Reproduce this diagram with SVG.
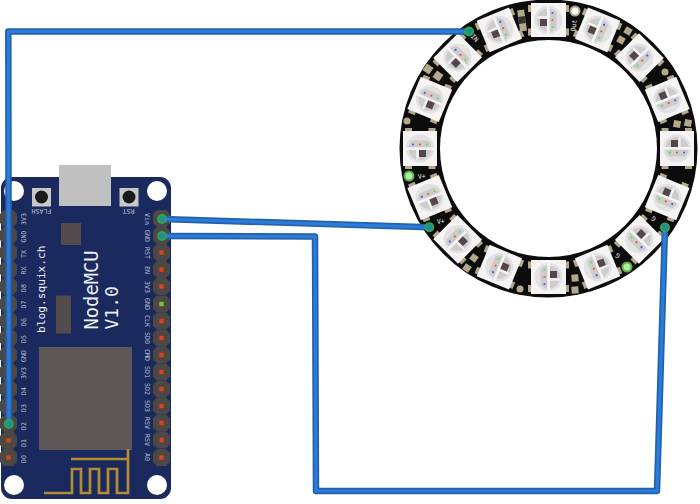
<svg xmlns="http://www.w3.org/2000/svg" xmlns:xlink="http://www.w3.org/1999/xlink" width="700" height="504" viewBox="0 0 700 504">
<style>
.l{font-family:"DejaVu Sans Mono",monospace;fill:#bcc0d4;font-size:6.600px;text-anchor:middle}
.t{font-family:"DejaVu Sans Mono",monospace;fill:#eceef4}
.pad{fill:#b3a88c}
.w1{fill:none;stroke:#2161ad;stroke-width:6.500;stroke-linecap:round;stroke-linejoin:round}
.w2{fill:none;stroke:#2c7bd6;stroke-width:3.200;stroke-linecap:round;stroke-linejoin:round}
.pin{fill:#4b4846}
.sq{fill:#e0401a}
.gp{fill:#a4f296;stroke:#6aa84f;stroke-width:2}
.ep{fill:#1f8f98;stroke:#35a34c;stroke-width:2}
</style>
<defs>
<clipPath id="c"><circle r="11.500"/></clipPath>
<g id="led">
<rect class="pad" x="-15" y="-20.500" width="7" height="41"/>
<rect class="pad" x="8.500" y="-20.500" width="7" height="41"/>
<rect x="-17" y="-17.500" width="34" height="35" fill="#f5f3f3"/>
<circle r="14" fill="#e2e2e2"/>
<g clip-path="url(#c)">
<rect x="-12" y="-8" width="24" height="7" fill="#cdcbcb"/>
<rect x="-12" y="1.500" width="8.500" height="11" fill="#cdcbcb"/>
<rect x="-1.500" y="1.500" width="13" height="11" fill="#cdcbcb"/>
</g>
<rect x="-14" y="-1" width="28" height="2.500" fill="#f5f3f3"/>
<rect x="-3.500" y="1" width="2" height="10" fill="#f5f3f3"/>
<rect x="-1" y="1.500" width="7" height="7" fill="#55464a"/>
<circle cx="-7" cy="-4" r="1.100" fill="#4a5cf0"/>
<circle cy="-4" r="1.100" fill="#f05a28"/>
<circle cx="7" cy="-4" r="1.100" fill="#5ae65a"/>
</g>
<g id="p"><path class="pin" d="M-4.500-8.600H4.500L8.500-4.500V4.500L4.500 8.600H-4.500L-8.500 4.500V-4.500Z"/></g>
<g id="ps"><use xlink:href="#p"/><rect class="sq" x="-2.200" y="-2.200" width="4.400" height="4.400"/></g>
</defs>
<g id="ring">
<path fill-rule="evenodd" fill="#0c0c0c" d="M399.500 148.500a149 149 0 1 0 298 0a149 149 0 1 0 -298 0ZM440 148.500a108.500 108.500 0 1 1 217 0a108.500 108.500 0 1 1 -217 0Z"/>
<use xlink:href="#led" transform="rotate(0 548.500 148.500) translate(420 148.500)"/>
<use xlink:href="#led" transform="rotate(22.500 548.500 148.500) translate(420 148.500)"/>
<use xlink:href="#led" transform="rotate(45 548.500 148.500) translate(420 148.500)"/>
<use xlink:href="#led" transform="rotate(67.500 548.500 148.500) translate(420 148.500)"/>
<use xlink:href="#led" transform="rotate(90 548.500 148.500) translate(420 148.500)"/>
<use xlink:href="#led" transform="rotate(112.500 548.500 148.500) translate(420 148.500)"/>
<use xlink:href="#led" transform="rotate(135 548.500 148.500) translate(420 148.500)"/>
<use xlink:href="#led" transform="rotate(157.500 548.500 148.500) translate(420 148.500)"/>
<use xlink:href="#led" transform="rotate(180 548.500 148.500) translate(420 148.500)"/>
<use xlink:href="#led" transform="rotate(202.500 548.500 148.500) translate(420 148.500)"/>
<use xlink:href="#led" transform="rotate(225 548.500 148.500) translate(420 148.500)"/>
<use xlink:href="#led" transform="rotate(247.500 548.500 148.500) translate(420 148.500)"/>
<use xlink:href="#led" transform="rotate(270 548.500 148.500) translate(420 148.500)"/>
<use xlink:href="#led" transform="rotate(292.500 548.500 148.500) translate(420 148.500)"/>
<use xlink:href="#led" transform="rotate(315 548.500 148.500) translate(420 148.500)"/>
<use xlink:href="#led" transform="rotate(337.500 548.500 148.500) translate(420 148.500)"/>
<g class="pad">
<rect x="-4" y="-4" width="8" height="8" transform="translate(428 69) rotate(35)"/>
<rect x="-4" y="-4" width="8" height="8" transform="translate(438 76) rotate(35)"/>
<rect x="-3.500" y="-3.500" width="7" height="7" transform="translate(628 31) rotate(30)"/>
<rect x="-3.500" y="-3.500" width="7" height="7" transform="translate(621 40) rotate(30)"/>
<rect x="-3.500" y="-3.500" width="7" height="7" transform="translate(688 123) rotate(10)"/>
<rect x="-3.500" y="-3.500" width="7" height="7" transform="translate(677 124) rotate(10)"/>
<rect x="-3.500" y="-3.500" width="7" height="7" transform="translate(474 258) rotate(35)"/>
<rect x="-3.500" y="-3.500" width="7" height="7" transform="translate(467 268) rotate(35)"/>
<rect x="-3.500" y="-3.500" width="7" height="7" transform="translate(575 278) rotate(-5)"/>
<rect x="-3.500" y="-3.500" width="7" height="7" transform="translate(575 290) rotate(-5)"/>
<circle cx="407" cy="121" r="3.500"/>
<circle cx="665" cy="72" r="3.500"/>
<circle cx="520" cy="289" r="3.500"/>
</g>
<rect x="518.500" y="10" width="7" height="21" fill="#b3a88c" transform="rotate(-8 522 20)"/>
<rect x="518.500" y="16.500" width="7" height="7" fill="#333" transform="rotate(-8 522 20)"/>
<circle cx="575" cy="11" r="4.500" fill="#fff" stroke="#b3a88c" stroke-width="2"/>
<circle class="gp" cx="409" cy="176" r="4.500"/>
<circle class="gp" cx="627" cy="267" r="4.500"/>
<text class="t" font-size="6.500" text-anchor="middle" transform="translate(473 39.500) rotate(45)">IN</text>
<text class="t" font-size="6.500" text-anchor="middle" transform="translate(576 26) rotate(-80)">Out</text>
<text class="t" font-size="6.500" text-anchor="middle" transform="translate(422 178.500) rotate(-8)">V+</text>
<text class="t" font-size="6.500" text-anchor="middle" transform="translate(441 223.500) rotate(-8)">V+</text>
<text class="t" font-size="6.500" text-anchor="middle" transform="translate(655 217) rotate(-145)">G</text>
<text class="t" font-size="6.500" text-anchor="middle" transform="translate(619 254) rotate(-145)">G</text>
</g>
<g id="nodemcu">
<rect x="1" y="177" width="170" height="322" rx="11" fill="#1b2a5e"/>
<rect x="59" y="165" width="52" height="41" fill="#c0c0c0"/>
<circle cx="14" cy="191" r="10" fill="#fff"/>
<circle cx="157" cy="191" r="10" fill="#fff"/>
<circle cx="14" cy="485" r="10" fill="#fff"/>
<circle cx="157" cy="485" r="10" fill="#fff"/>
<rect x="32" y="188" width="19" height="18.500" fill="#c8c8c8"/><circle cx="41.500" cy="197" r="6.500" fill="#1a1a1a"/>
<rect x="119.500" y="188" width="19" height="18.500" fill="#c8c8c8"/><circle cx="129" cy="197" r="6.500" fill="#1a1a1a"/>
<rect x="61" y="223" width="20" height="22" fill="#544c4c"/>
<rect x="56" y="295.500" width="15" height="38" fill="#544c4c"/>
<rect x="39" y="347" width="93" height="103" fill="#5f5757"/>
<path d="M44 493H72V469H81V493H90V469H99V493H108V469H117V493H128V449M128 459H71" fill="none" stroke="#b58d2e" stroke-width="2.700"/>
<g id="right-pins">
<use xlink:href="#p" x="161.500" y="218.500"/><use xlink:href="#p" x="161.500" y="235.500"/>
<use xlink:href="#ps" x="161.500" y="252.500"/><use xlink:href="#ps" x="161.500" y="269.500"/><use xlink:href="#ps" x="161.500" y="286.500"/>
<use xlink:href="#p" x="161.500" y="304"/><rect x="159.300" y="301.800" width="4.400" height="4.400" fill="#7ac52a"/>
<use xlink:href="#ps" x="161.500" y="321"/><use xlink:href="#ps" x="161.500" y="338"/><use xlink:href="#ps" x="161.500" y="355"/><use xlink:href="#ps" x="161.500" y="372"/><use xlink:href="#ps" x="161.500" y="389"/><use xlink:href="#ps" x="161.500" y="406"/><use xlink:href="#ps" x="161.500" y="423"/><use xlink:href="#ps" x="161.500" y="440"/><use xlink:href="#ps" x="161.500" y="457.500"/>
</g>
<g id="left-pins">
<use xlink:href="#p" x="8.500" y="218.500"/><use xlink:href="#p" x="8.500" y="235.500"/><use xlink:href="#p" x="8.500" y="252.500"/><use xlink:href="#p" x="8.500" y="269.500"/><use xlink:href="#p" x="8.500" y="286.500"/><use xlink:href="#p" x="8.500" y="304"/><use xlink:href="#p" x="8.500" y="321"/><use xlink:href="#p" x="8.500" y="338"/><use xlink:href="#p" x="8.500" y="355"/><use xlink:href="#p" x="8.500" y="372"/><use xlink:href="#p" x="8.500" y="389"/><use xlink:href="#p" x="8.500" y="406"/><use xlink:href="#p" x="8.500" y="423.500"/>
<use xlink:href="#ps" x="8.500" y="440.500"/><use xlink:href="#ps" x="8.500" y="457.500"/>
</g>
<g class="l">
<text transform="translate(26 219) rotate(-90)">3V3</text>
<text transform="translate(26 236.500) rotate(-90)">GND</text>
<text transform="translate(26 254) rotate(-90)">TX</text>
<text transform="translate(26 270.500) rotate(-90)">RX</text>
<text transform="translate(26 288) rotate(-90)">D8</text>
<text transform="translate(26 304.500) rotate(-90)">D7</text>
<text transform="translate(26 322) rotate(-90)">D6</text>
<text transform="translate(26 339) rotate(-90)">D5</text>
<text transform="translate(26 356) rotate(-90)">GND</text>
<text transform="translate(26 373) rotate(-90)">3V3</text>
<text transform="translate(26 391) rotate(-90)">D4</text>
<text transform="translate(26 408) rotate(-90)">D3</text>
<text transform="translate(26 426) rotate(-90)">D2</text>
<text transform="translate(26 443) rotate(-90)">D1</text>
<text transform="translate(26 459) rotate(-90)">D0</text>
<text transform="translate(144.500 219) rotate(90)">Vin</text>
<text transform="translate(144.500 236) rotate(90)">GND</text>
<text transform="translate(144.500 253) rotate(90)">RST</text>
<text transform="translate(144.500 270) rotate(90)">EN</text>
<text transform="translate(144.500 287) rotate(90)">3V3</text>
<text transform="translate(144.500 304) rotate(90)">GND</text>
<text transform="translate(144.500 321) rotate(90)">CLK</text>
<text transform="translate(144.500 338) rotate(90)">SD0</text>
<text transform="translate(144.500 355) rotate(90)">CMD</text>
<text transform="translate(144.500 372) rotate(90)">SD1</text>
<text transform="translate(144.500 389) rotate(90)">SD2</text>
<text transform="translate(144.500 406) rotate(90)">SD3</text>
<text transform="translate(144.500 423) rotate(90)">RSV</text>
<text transform="translate(144.500 440) rotate(90)">RSV</text>
<text transform="translate(144.500 457) rotate(90)">A0</text>
<text transform="translate(41.500 209) rotate(180)">FLASH</text>
<text transform="translate(128.500 209) rotate(180)">RST</text>
</g>
<text class="t" font-size="11.200" transform="translate(45 333) rotate(-90)">blog.squix.ch</text>
<text class="t" font-size="18.800" transform="translate(98 329.500) rotate(-90)">NodeMCU</text>
<text class="t" font-size="18" transform="translate(118 329.500) rotate(-90)">V1.0</text>
</g>
<g id="connectors">
<polyline class="w1" points="8.800,424 8.300,31.500 469,31.500"/>
<polyline class="w2" points="8.800,424 8.300,31.500 469,31.500"/>
<polyline class="w1" points="162,219 429.300,227.300"/>
<polyline class="w2" points="162,219 429.300,227.300"/>
<polyline class="w1" points="162,236 315,236.500 316,491 657,491 665,227.500"/>
<polyline class="w2" points="162,236 315,236.500 316,491 657,491 665,227.500"/>
<circle class="ep" cx="8.800" cy="424" r="4"/>
<circle class="ep" cx="162" cy="219" r="4"/>
<circle class="ep" cx="162" cy="236" r="4"/>
<circle class="ep" cx="469" cy="31.500" r="4"/>
<circle class="ep" cx="429.300" cy="227.300" r="4"/>
<circle class="ep" cx="665" cy="227.500" r="4"/>
</g>
</svg>
